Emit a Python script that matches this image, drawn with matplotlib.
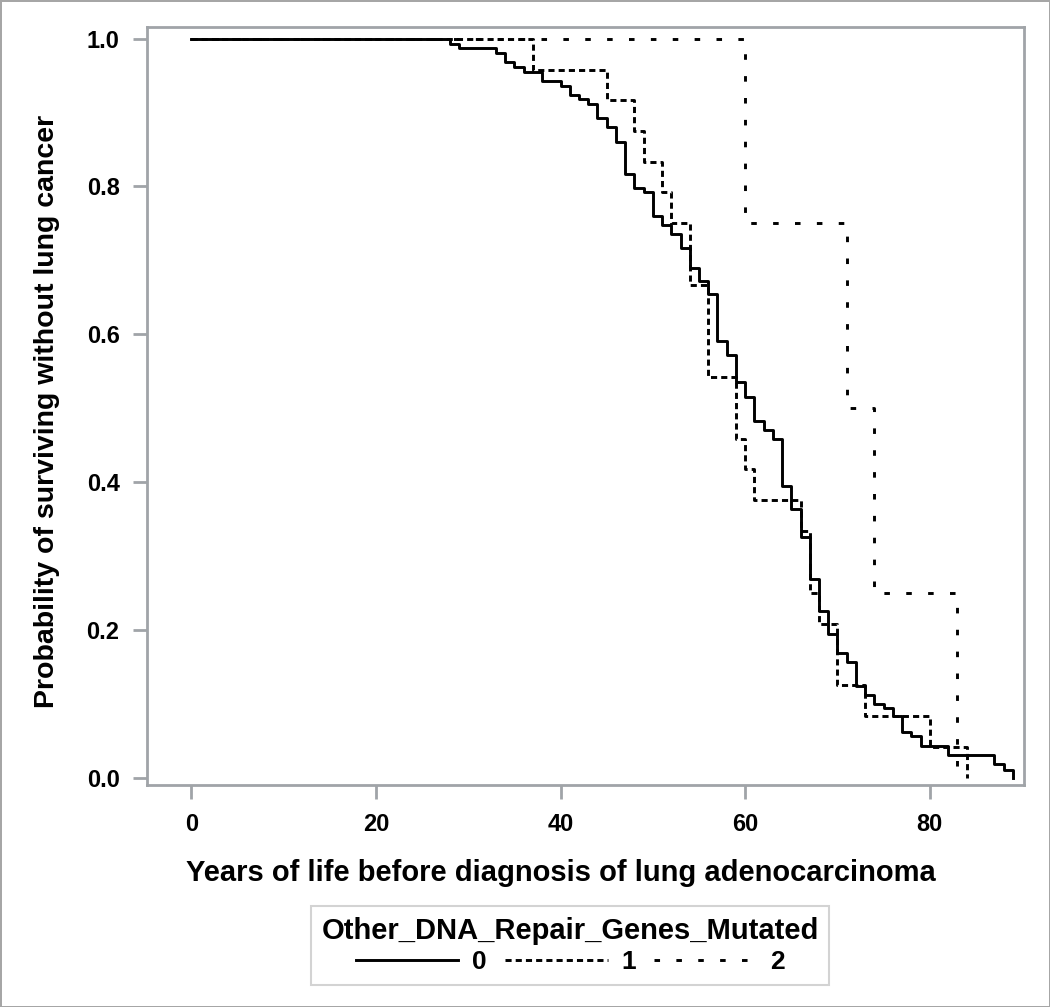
import matplotlib.pyplot as plt

# Kaplan-Meier style steps (time where each step starts)
t0 = [0, 28, 29, 33, 34, 35, 36, 38, 40, 41, 42, 43, 44, 45, 46, 47, 48, 49, 50, 51,
      52, 53, 54, 55, 56, 57, 58, 59, 60, 61, 62, 63, 64, 65, 66, 67, 68, 69, 70, 71,
      72, 73, 74, 75, 76, 77, 78, 79, 82, 87, 88, 89]
s0 = [1.0, 0.993, 0.987, 0.980, 0.968, 0.961, 0.955, 0.942, 0.936, 0.923, 0.918, 0.911,
      0.892, 0.880, 0.860, 0.816, 0.798, 0.792, 0.760, 0.748, 0.736, 0.716, 0.690, 0.672,
      0.654, 0.591, 0.572, 0.535, 0.515, 0.483, 0.470, 0.458, 0.394, 0.364, 0.326, 0.268,
      0.225, 0.194, 0.169, 0.156, 0.124, 0.112, 0.100, 0.094, 0.083, 0.062, 0.056, 0.043,
      0.030, 0.019, 0.010, 0.0]

t1 = [0, 37, 45, 48, 49, 51, 52, 54, 56, 59, 60, 61, 66, 67, 68, 70, 73, 80, 84]
s1 = [1.0, 0.958, 0.917, 0.875, 0.833, 0.792, 0.750, 0.667, 0.542, 0.458, 0.417, 0.375,
      0.333, 0.250, 0.208, 0.125, 0.083, 0.042, 0.0]

t2 = [0, 60, 71, 74, 83]
s2 = [1.0, 0.75, 0.50, 0.25, 0.0]

groups = ["0", "1", "2"]

plt.rcParams['font.family'] = ['Liberation Sans', 'DejaVu Sans']
plt.rcParams['font.weight'] = 'bold'

fig = plt.figure(figsize=(10.5, 10.07), dpi=100)
fig.patch.set_edgecolor('#a6a6a6')
fig.patch.set_linewidth(2)
ax = fig.add_axes([0.1403, 0.2205, 0.8349, 0.753])

lw = 2.1
ax.step(t0, s0, where='post', color='black', lw=lw, label=groups[0])
ax.step(t1, s1, where='post', color='black', lw=lw, linestyle=(0, (2.1, 1.4)), label=groups[1])
ax.step(t2, s2, where='post', color='black', lw=lw, linestyle=(0, (1.9, 5.6)), label=groups[2])

ax.set_xlim(-4.77, 90.2)
ax.set_ylim(-0.01, 1.016)
ax.set_xticks([0, 20, 40, 60, 80])
ax.set_yticks([0.0, 0.2, 0.4, 0.6, 0.8, 1.0])
ax.set_yticklabels(['0.0', '0.2', '0.4', '0.6', '0.8', '1.0'])

grey = '#a0a4a8'
for sp in ax.spines.values():
    sp.set_color(grey)
    sp.set_linewidth(2)
ax.tick_params(colors=grey, width=2, length=10, labelsize=17, labelcolor='black', pad=10)
for lab in ax.get_xticklabels() + ax.get_yticklabels():
    lab.set_fontweight('bold')

ax.set_xlabel('Years of life before diagnosis of lung adenocarcinoma', fontsize=21,
              fontweight='bold')
ax.set_ylabel('Probability of surviving without lung cancer', fontsize=20.5,
              fontweight='bold')
ax.xaxis.set_label_coords(0.472, -0.097)
ax.yaxis.set_label_coords(-0.100, 0.492)

leg = fig.legend(loc='center', bbox_to_anchor=(0.543, 0.061), ncol=3, fontsize=19,
                 title='Other_DNA_Repair_Genes_Mutated',
                 title_fontproperties={'weight': 'bold', 'size': 21},
                 frameon=True, fancybox=False, edgecolor='#c8c8c8',
                 handlelength=3.9, columnspacing=0.7, handletextpad=0.5,
                 borderpad=0.4, labelspacing=0.2)
leg.get_frame().set_linewidth(1.5)
for txt in leg.get_texts():
    txt.set_fontweight('bold')

fig.savefig('out.png', dpi=100)
